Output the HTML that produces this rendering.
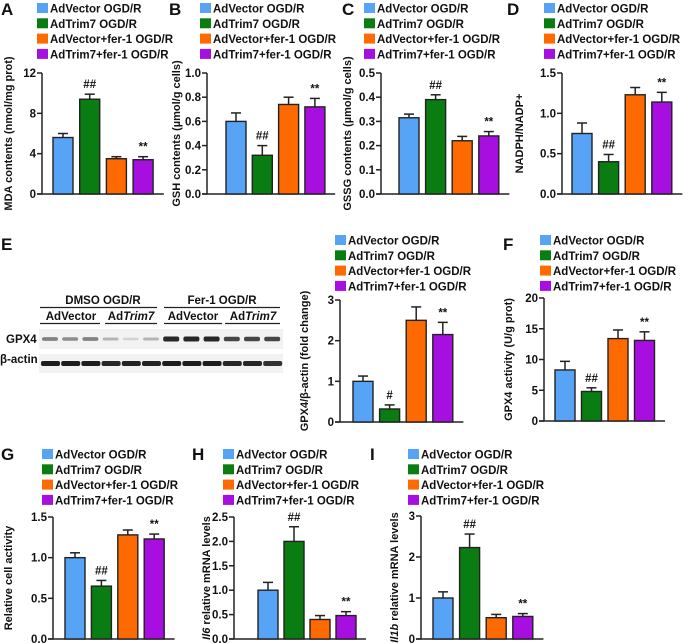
<!DOCTYPE html>
<html><head><meta charset="utf-8"><style>
html,body{margin:0;padding:0;background:#fff;}
svg{display:block;}
text{font-family:"Liberation Sans",Arial,sans-serif;font-weight:700;}
</style></head><body>
<svg id="fig" width="685" height="643" viewBox="0 0 685 643" xmlns="http://www.w3.org/2000/svg"></svg>
<script>
const groups = ["AdVector OGD/R","AdTrim7 OGD/R","AdVector+fer-1 OGD/R","AdTrim7+fer-1 OGD/R"];
const colors = ["#57a4f6","#0a7d12","#ff6a00","#a70fe0"];
// panel data
const mdaVals = [5.6, 9.4, 3.5, 3.4];     const mdaErr = [0.4, 0.5, 0.2, 0.3];   const mdaTicks = [0,4,8,12];
const gshVals = [0.60, 0.32, 0.74, 0.72]; const gshErr = [0.07,0.08,0.06,0.07];  const gshTicks = ["0.0","0.2","0.4","0.6","0.8","1.0"];
const gssgVals = [0.315,0.39,0.22,0.24];  const gssgErr = [0.015,0.02,0.018,0.018]; const gssgTicks = ["0.0","0.1","0.2","0.3","0.4","0.5"];
const nadVals = [0.75,0.40,1.23,1.14];    const nadErr = [0.13,0.09,0.09,0.12];   const nadTicks = ["0.0","0.5","1.0","1.5"];
const gpxVals = [1.0,0.32,2.5,2.15];      const gpxErr = [0.13,0.1,0.33,0.3];     const gpxTicks = [0,1,2,3];
const gpxActVals = [8.3,4.8,13.4,13.1];   const gpxActErr = [1.4,0.6,1.4,1.4];    const gpxActTicks = [0,5,10,15,20];
const cellVals = [1.0,0.65,1.28,1.23];    const cellErr = [0.06,0.07,0.06,0.06];  const cellTicks = ["0.0","0.5","1.0","1.5"];
const il6Vals = [1.0,2.0,0.4,0.48];       const il6Err = [0.16,0.3,0.08,0.08];    const il6Ticks = ["0.0","0.5","1.0","1.5","2.0","2.5"];
const il1bVals = [1.0,2.23,0.52,0.55];    const il1bErr = [0.15,0.33,0.08,0.07];  const il1bTicks = [0,1,2,3];
const marks = ["","##","","**"];
const gpxMarks = ["","#","","**"];
const gpx4Bands = [0.55,0.5,0.55,0.3,0.15,0.3,1,1,1,0.85,0.85,0.85];
const actinBands = [0.95,0.95,0.95,0.9,0.92,0.92,0.95,0.95,0.95,0.9,0.9,0.85];

const NS="http://www.w3.org/2000/svg";
const svg=document.getElementById('fig');
function mk(tag,attrs,parent){const e=document.createElementNS(NS,tag);for(const k in attrs)e.setAttribute(k,attrs[k]);(parent||svg).appendChild(e);return e;}
function txt(s,x,y,size,anchor,parent){const t=mk('text',{x:x,y:y,'font-size':size,'font-weight':'bold','text-anchor':anchor||'start',fill:'#111'},parent);t.textContent=s;return t;}

function panel(p){
  const g=mk('g',{});
  
  
  if(p.letter){const L=txt(p.letter,p.lx,p.ly,17,'start',g);
    
    }
  for(let i=0;i<4;i++){
    const le=mk('g',{},g);
    
    
    mk('rect',{x:p.sx,y:p.sy+i*15.3-5,width:11,height:10,fill:colors[i]},le);
    txt(groups[i],p.sx+13,p.sy+i*15.3+4.5,11.5,'start',le);
  }
  const max=p.max, y0=p.y0, y1=p.y1;
  const ys=v=>y0-(v/max)*(y0-y1);
  const ax=mk('g',{},g);
  
  
  mk('line',{x1:p.ax,y1:y1,x2:p.ax,y2:y0,stroke:'#222','stroke-width':1.5},ax);
  mk('line',{x1:p.ax-5,y1:y0,x2:p.bx+4*p.step+4,y2:y0,stroke:'#222','stroke-width':1.5},ax);
  p.ticks.forEach(t=>{const v=parseFloat(t);const y=ys(v);
    mk('line',{x1:p.ax-5,y1:y,x2:p.ax,y2:y,stroke:'#222','stroke-width':1.5},ax);
    txt(String(t),p.ax-6,y+4,11.5,'end',ax);});
  const yt=mk('text',{x:0,y:0,'font-size':11,'font-weight':'bold','text-anchor':'middle',fill:'#111',transform:`translate(${p.tx},${(y0+y1)/2}) rotate(-90)`},g);
  
  
  if(p.italic){const a=mk('tspan',{'font-style':'italic'},yt);a.textContent=p.italic;const b=mk('tspan',{},yt);b.textContent=p.title;}
  else yt.textContent=p.title;
  p.vals.forEach((v,i)=>{
    const x=p.bx+i*p.step, w=p.bw, top=ys(v), et=ys(v+p.err[i]);
    const b=mk('rect',{x:x,y:top,width:w,height:y0-top,fill:colors[i],stroke:'#222','stroke-width':1.4},g);
    
    
    mk('line',{x1:x+w/2,y1:top,x2:x+w/2,y2:et,stroke:'#222','stroke-width':1.5},g);
    mk('line',{x1:x+w/2-5,y1:et,x2:x+w/2+5,y2:et,stroke:'#222','stroke-width':1.5},g);
    const m=p.marks[i]; if(m){const s=txt(m,x+w/2,et-6,11.5,'middle',g);
      
      }
  });
}
const common={y0:194,y1:73};
panel({name:'mda',letter:'A',lx:1,ly:15,sx:37,sy:8,ax:42,bx:53,bw:20,step:26.7,tx:12,max:12,ticks:mdaTicks,vals:mdaVals,err:mdaErr,title:'MDA contents (nmol/mg prot)',marks:marks,...common});
panel({name:'gsh',letter:'B',lx:169,ly:15,sx:200,sy:8,ax:207,bx:226,bw:20,step:26.3,tx:180,max:1,ticks:gshTicks,vals:gshVals,err:gshErr,title:'GSH contents (µmol/g cells)',marks:marks,...common});
panel({name:'gssg',letter:'C',lx:342,ly:15,sx:364,sy:8,ax:381,bx:399,bw:20,step:26.6,tx:351,max:0.5,ticks:gssgTicks,vals:gssgVals,err:gssgErr,title:'GSSG contents (µmol/g cells)',marks:marks,...common});
panel({name:'nadph',letter:'D',lx:507,ly:15,sx:544,sy:8,ax:562,bx:572,bw:20,step:26.6,tx:523,max:1.5,ticks:nadTicks,vals:nadVals,err:nadErr,title:'NADPH/NADP+',marks:marks,...common});
panel({name:'gpx4-blot-quant',letter:'',sx:335,sy:240,ax:340,bx:353,bw:20,step:26.6,tx:308,max:3,y0:422,y1:300,ticks:gpxTicks,vals:gpxVals,err:gpxErr,title:'GPX4/β-actin (fold change)',marks:gpxMarks});
panel({name:'gpx4-activity',letter:'F',lx:503,ly:250,sx:540,sy:240,ax:544,bx:555,bw:20,step:26.5,tx:512,max:20,y0:421,y1:298,ticks:gpxActTicks,vals:gpxActVals,err:gpxActErr,title:'GPX4 activity (U/g prot)',marks:marks});
panel({name:'cell-activity',letter:'G',lx:1,ly:460,sx:42,sy:454,ax:53,bx:65,bw:20,step:26.4,tx:12,max:1.5,y0:639,y1:517,ticks:cellTicks,vals:cellVals,err:cellErr,title:'Relative cell activity',marks:marks});
panel({name:'il6',letter:'H',lx:192,ly:460,sx:223,sy:454,ax:234,bx:258,bw:20,step:26,tx:210,max:2.5,y0:639,y1:517,ticks:il6Ticks,vals:il6Vals,err:il6Err,title:' relative mRNA levels',italic:'Il6',marks:marks});
panel({name:'il1b',letter:'I',lx:370,ly:460,sx:408,sy:454,ax:421,bx:433,bw:20,step:26.6,tx:398,max:3,y0:639,y1:516,ticks:il1bTicks,vals:il1bVals,err:il1bErr,title:' relative mRNA levels',italic:'Il1b',marks:marks});

// Panel E blot
const eg=mk('g',{});


const EL=txt('E',1,250,17,'start',eg);


txt('DMSO OGD/R',103,304,11.5,'middle',eg);
txt('Fer-1 OGD/R',222,304,11.5,'middle',eg);
mk('line',{x1:40,y1:307.5,x2:157,y2:307.5,stroke:'#222','stroke-width':1.3},eg);
mk('line',{x1:164,y1:307.5,x2:280,y2:307.5,stroke:'#222','stroke-width':1.3},eg);
[[71,'AdVector',''],[131,'Ad','Trim7'],[193,'AdVector',''],[253,'Ad','Trim7']].forEach(a=>{
  const t=mk('text',{x:a[0],y:320,'font-size':11.5,'font-weight':'bold','text-anchor':'middle',fill:'#111'},eg);
  const s1=mk('tspan',{},t);s1.textContent=a[1];
  if(a[2]){const s2=mk('tspan',{'font-style':'italic'},t);s2.textContent=a[2];}
});
[[40,100],[105,157],[164,222],[225,280]].forEach(s=>mk('line',{x1:s[0],y1:323.5,x2:s[1],y2:323.5,stroke:'#222','stroke-width':1.3},eg));
txt('GPX4',6,343,11.5,'start',eg);
txt('β-actin',0,363,11.5,'start',eg);
mk('rect',{x:39,y:329,width:244,height:20,fill:'#f2f2f2'},eg);
mk('rect',{x:39,y:354,width:244,height:19,fill:'#f2f2f2'},eg);
gpx4Bands.forEach((v,i)=>{const b=mk('rect',{x:42+i*20.2,y:339-1-v*1.5,width:16,height:2+v*3,rx:2,fill:'#111','fill-opacity':v*0.9},eg);
  
  });
actinBands.forEach((v,i)=>{const b=mk('rect',{x:41+i*20.2,y:361,width:19,height:5,rx:2,fill:'#111','fill-opacity':v},eg);
  
  });
</script>
</body></html>
